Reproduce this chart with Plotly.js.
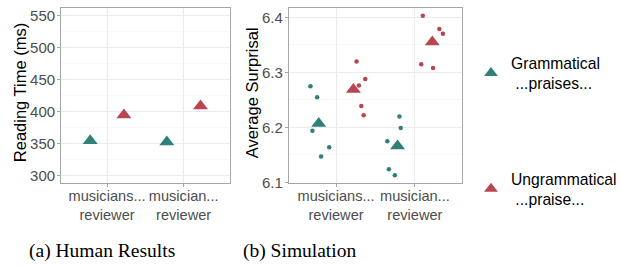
<!DOCTYPE html>
<html><head><meta charset="utf-8">
<script src="https://cdn.plot.ly/plotly-3.0.1.min.js"></script>
<style>html,body{margin:0;padding:0;background:#fff}#chart{width:622px;height:271px}</style>
</head><body><div id="chart"></div>
<script>
const categories = ["musicians...<br>reviewer", "musician...<br>reviewer"];
const seriesNames = ["Grammatical<br> ...praises...", "Ungrammatical<br> ...praise..."];
// (a) Human results: reading time (ms)
const humanGram = [355, 353];
const humanUngram = [395, 409];
// (b) Simulation: per-run average surprisal
const simGramCat1 = [6.275, 6.255, 6.194, 6.164, 6.147];
const simGramCat2 = [6.220, 6.199, 6.175, 6.124, 6.113];
const simUngramCat1 = [6.320, 6.288, 6.276, 6.239, 6.222];
const simUngramCat2 = [6.403, 6.379, 6.370, 6.315, 6.308];
const jitGramCat1 = [-0.325, -0.24, -0.30, -0.087, -0.19];
const jitGramCat2 = [-0.196, -0.18, -0.35, -0.33, -0.255];
const jitUngramCat1 = [0.26, 0.37, 0.29, 0.32, 0.35];
const jitUngramCat2 = [0.10, 0.31, 0.355, 0.08, 0.23];
const dodge = 0.22;

const GREEN = "#2E8078", RED = "#B94550";
const mean = a => a.reduce((s, v) => s + v, 0) / a.length;
const pos = [1, 2];

const traces = [
  {x: pos.map(p => p - dodge), y: humanGram, xaxis: "x", yaxis: "y", mode: "markers", type: "scatter",
   marker: {symbol: "triangle-up", size: 13, color: GREEN}, showlegend: false, hoverinfo: "y"},
  {x: pos.map(p => p + dodge), y: humanUngram, xaxis: "x", yaxis: "y", mode: "markers", type: "scatter",
   marker: {symbol: "triangle-up", size: 13, color: RED}, showlegend: false, hoverinfo: "y"},
  {x: jitGramCat1.map(j => 1 + j).concat(jitGramCat2.map(j => 2 + j)), y: simGramCat1.concat(simGramCat2),
   xaxis: "x2", yaxis: "y2", mode: "markers", type: "scatter", marker: {size: 4.5, color: GREEN}, showlegend: false},
  {x: jitUngramCat1.map(j => 1 + j).concat(jitUngramCat2.map(j => 2 + j)), y: simUngramCat1.concat(simUngramCat2),
   xaxis: "x2", yaxis: "y2", mode: "markers", type: "scatter", marker: {size: 4.5, color: RED}, showlegend: false},
  {x: pos.map(p => p - dodge), y: [mean(simGramCat1), mean(simGramCat2)], xaxis: "x2", yaxis: "y2",
   mode: "markers", type: "scatter", marker: {symbol: "triangle-up", size: 13, color: GREEN},
   name: seriesNames[0], legendgroup: "g", showlegend: true},
  {x: pos.map(p => p + dodge), y: [mean(simUngramCat1), mean(simUngramCat2)], xaxis: "x2", yaxis: "y2",
   mode: "markers", type: "scatter", marker: {symbol: "triangle-up", size: 13, color: RED},
   name: seriesNames[1], legendgroup: "u", showlegend: true}
];

const W = 622, H = 271;
const yDom = [1 - 183 / H, 1 - 8 / H];
const SANS = "Liberation Sans, Arial, sans-serif";
const tickFont = {family: SANS, size: 15, color: "#4D4D4D"};
const xTickFont = {family: SANS, size: 14.6, color: "#4D4D4D"};
function xax(dom) {
  return {domain: dom, range: [0.4, 2.6], tickvals: pos, ticktext: categories, tickfont: xTickFont,
    showgrid: true, gridcolor: "#EBEBEB", gridwidth: 1, zeroline: false, showline: true, linecolor: "#A6A6A6",
    linewidth: 1, mirror: true, ticks: "outside", ticklen: 3, tickcolor: "#A6A6A6", ticklabelstandoff: -4,
    fixedrange: true};
}
function yax(range, tv, anchor, minor) {
  return {domain: yDom, range: range, tickvals: tv, tickfont: tickFont, anchor: anchor,
    showgrid: true, gridcolor: "#EBEBEB", gridwidth: 1, zeroline: false, showline: true, linecolor: "#A6A6A6",
    linewidth: 1, mirror: true, ticks: "outside", ticklen: 3, tickcolor: "#A6A6A6", ticklabelstandoff: -1,
    minor: {tickvals: minor, showgrid: true, gridcolor: "#F3F3F3", gridwidth: 0.6, ticks: ""}, fixedrange: true};
}

const layout = {
  width: W, height: H, margin: {l: 0, r: 0, t: 0, b: 0}, paper_bgcolor: "#fff", plot_bgcolor: "#fff",
  font: {family: SANS},
  xaxis: xax([62 / W, 233 / W]),
  yaxis: yax([289, 562], [300, 350, 400, 450, 500, 550], "x", [325, 375, 425, 475, 525]),
  xaxis2: Object.assign(xax([293 / W, 469 / W]), {anchor: "y2"}),
  yaxis2: yax([6.099, 6.417], [6.1, 6.2, 6.3, 6.4], "x2", [6.15, 6.25, 6.35]),
  showlegend: true,
  legend: {x: 478 / W, y: 1 - 46 / H, xanchor: "left", yanchor: "top", font: {family: SANS, size: 15.7, color: "#000"},
    tracegroupgap: 72, itemsizing: "constant", bgcolor: "rgba(0,0,0,0)"},
  annotations: [
    {text: "Reading Time (ms)", textangle: -90, x: 20.5 / W, y: 1 - 93 / H, xref: "paper", yref: "paper",
     showarrow: false, font: {family: SANS, size: 16.5, color: "#000"}, xanchor: "center", yanchor: "middle"},
    {text: "Average Surprisal", textangle: -90, x: 256 / W, y: 1 - 93 / H, xref: "paper", yref: "paper",
     showarrow: false, font: {family: SANS, size: 16.5, color: "#000"}, xanchor: "center", yanchor: "middle"},
    {text: "(a) Human Results", x: 104 / W, y: 1 - 251 / H, xref: "paper", yref: "paper", showarrow: false,
     xanchor: "center", yanchor: "middle",
     font: {family: "Liberation Serif, Times New Roman, serif", size: 19.5, color: "#000"}},
    {text: "(b) Simulation", x: 304 / W, y: 1 - 251 / H, xref: "paper", yref: "paper", showarrow: false,
     xanchor: "center", yanchor: "middle",
     font: {family: "Liberation Serif, Times New Roman, serif", size: 19.5, color: "#000"}}
  ]
};
Plotly.newPlot("chart", traces, layout, {staticPlot: true, displayModeBar: false});
</script></body></html>
